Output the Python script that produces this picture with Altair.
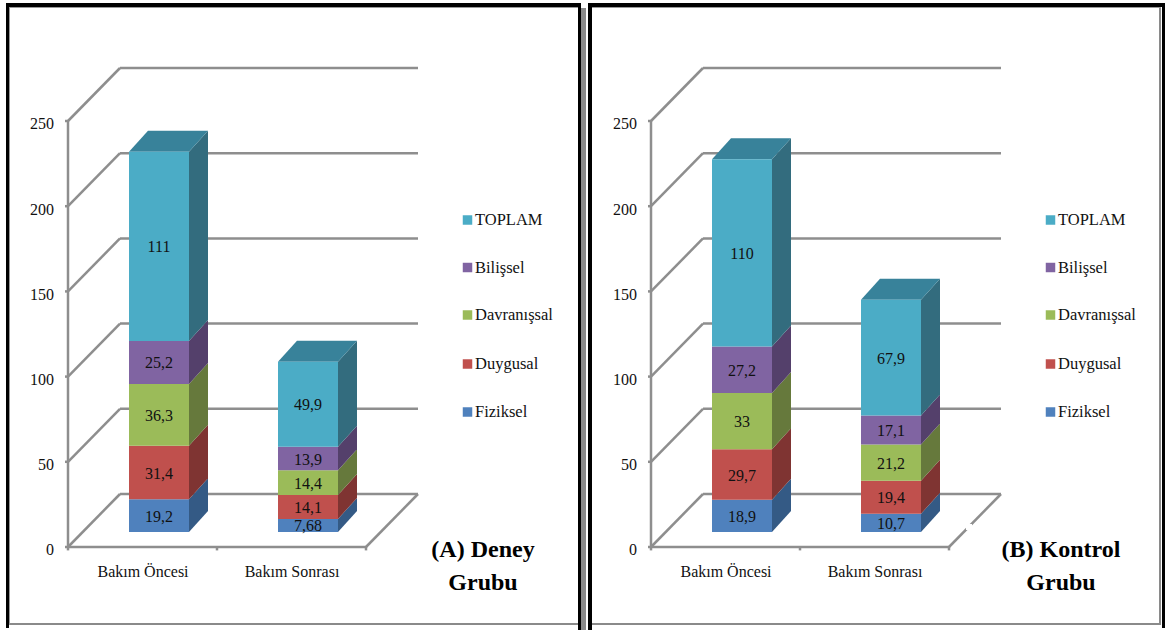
import altair as alt
import pandas as pd

# Scores per care stage, bottom to top of each stack
SERIES = ["Fiziksel", "Duygusal", "Davranışsal", "Bilişsel", "TOPLAM"]
STAGES = ["Bakım Öncesi", "Bakım Sonrası"]
DENEY_ONCESI = [19.2, 31.4, 36.3, 25.2, 111]
DENEY_SONRASI = [7.68, 14.1, 14.4, 13.9, 49.9]
KONTROL_ONCESI = [18.9, 29.7, 33, 27.2, 110]
KONTROL_SONRASI = [10.7, 19.4, 21.2, 17.1, 67.9]
LABELS_DENEY = [["19,2", "31,4", "36,3", "25,2", "111"], ["7,68", "14,1", "14,4", "13,9", "49,9"]]
LABELS_KONTROL = [["18,9", "29,7", "33", "27,2", "110"], ["10,7", "19,4", "21,2", "17,1", "67,9"]]
TICKS = [0, 50, 100, 150, 200, 250]

FRONT = ["#4F81BD", "#C0504D", "#9BBB59", "#8064A2", "#4BACC6"]
SIDE = ["#345A85", "#7F3432", "#66793C", "#54406B", "#336C7E"]
TOP = "#38829A"
GRID = "#8E8E8E"
SERIF = "Liberation Serif"

# Pixel density of the value axis and the fake-perspective depths, in value units
PX = 1.704
WALL = 53 / PX
BAR_LIFT = 15 / PX
BAR_DEPTH = 21 / PX
WALL_DX, BAR_DX = 52, 19
AXIS_X, SLOT, BAR_W, BAR_INSET = 68, 149, 60, 61
Y0 = 547


def panel(off, stacks, labels):
    lines, fronts, faces, texts = [], [], [], []

    def seg(x, y, x2, y2):
        lines.append(dict(x=off + x, y=y, x2=off + x2, y2=y2))

    right = AXIS_X + 2 * SLOT
    seg(AXIS_X, 0, AXIS_X, TICKS[-1])
    seg(AXIS_X, 0, right, 0)
    seg(right, 0, right + WALL_DX, WALL)
    for t in TICKS:
        seg(AXIS_X, t, AXIS_X + WALL_DX, t + WALL)
        seg(AXIS_X + WALL_DX, t + WALL, right + WALL_DX, t + WALL)
        seg(AXIS_X - 3, t, AXIS_X, t)
        texts.append(dict(x=off + 54, y=t - 2, t=str(t), a="right"))
    for i in range(3):
        seg(AXIS_X + i * SLOT, 0, AXIS_X + i * SLOT, -2)

    for s, (vals, stage) in enumerate(zip(stacks, STAGES)):
        x0 = off + AXIS_X + BAR_INSET + s * SLOT
        x1 = x0 + BAR_W
        base = BAR_LIFT
        texts.append(dict(x=off + AXIS_X + 75 + s * SLOT, y=-14.5, t=stage, a="center"))
        for k, v in enumerate(vals):
            top = base + v
            fronts.append(dict(x=x0, x2=x1, y=base, y2=top, c=FRONT[k]))
            texts.append(dict(x=(x0 + x1) / 2, y=(base + top) / 2 - 0.6, t=labels[s][k], a="center"))
            fid = f"{off}-{s}-{k}"
            faces += [
                dict(f=fid, x=x1, lo=base, hi=top, c=SIDE[k]),
                dict(f=fid, x=x1 + BAR_DX, lo=base + BAR_DEPTH, hi=top + BAR_DEPTH, c=SIDE[k]),
            ]
            base = top
        fid = f"{off}-{s}-top"
        faces += [
            dict(f=fid, x=x0, lo=base, hi=base, c=TOP),
            dict(f=fid, x=x0 + BAR_DX, lo=base, hi=base + BAR_DEPTH, c=TOP),
            dict(f=fid, x=x1, lo=base, hi=base + BAR_DEPTH, c=TOP),
            dict(f=fid, x=x1 + BAR_DX, lo=base + BAR_DEPTH, hi=base + BAR_DEPTH, c=TOP),
        ]
    return lines, fronts, faces, texts


def to_val(p):
    return (Y0 - p) / PX


def legend(off):
    rows = zip(SERIES, FRONT, [412, 364, 315, 267.5, 220])
    return [dict(x=off + 467.5, tx=off + 475, y=to_val(p), t=n, c=c) for n, c, p in rows]


a = panel(0, [DENEY_ONCESI, DENEY_SONRASI], LABELS_DENEY)
b = panel(583, [KONTROL_ONCESI, KONTROL_SONRASI], LABELS_KONTROL)
lines = pd.DataFrame(a[0] + b[0])
fronts = pd.DataFrame(a[1] + b[1])
faces = pd.DataFrame(a[2] + b[2])
texts = pd.DataFrame(a[3] + b[3])
leg = pd.DataFrame(legend(0) + legend(583))

xs = alt.Scale(domain=[0, 1165], range=[0, 1165], nice=False, zero=False)
ys = alt.Scale(domain=[to_val(630), to_val(0)], range=[630, 0], nice=False, zero=False)


def X(f):
    return alt.X(f, type="quantitative", scale=xs, axis=None)


def Y(f):
    return alt.Y(f, type="quantitative", scale=ys, axis=None, stack=None)


def text_aligned(align):
    return alt.Chart(texts[texts.a == align]).mark_text(
        font=SERIF, fontSize=16, color="#111111", baseline="middle", align=align
    ).encode(x=X("x"), y=Y("y"), text="t:N")


grid = alt.Chart(lines).mark_rule(color=GRID, strokeWidth=2.5).encode(x=X("x"), x2="x2", y=Y("y"), y2="y2")
side = alt.Chart(faces).mark_area().encode(
    x=X("x"), y=Y("lo"), y2="hi", detail="f:N", color=alt.Color("c:N", scale=None)
)
front = alt.Chart(fronts).mark_rect().encode(
    x=X("x"), x2="x2", y=Y("y"), y2="y2", color=alt.Color("c:N", scale=None)
)
swatches = alt.Chart(leg).mark_square(size=90, opacity=1).encode(
    x=X("x"), y=Y("y"), color=alt.Color("c:N", scale=None)
)
leg_text = alt.Chart(leg).mark_text(
    font=SERIF, fontSize=16.5, color="#111111", baseline="middle", align="left"
).encode(x=X("tx"), y=Y("y"), text="t:N")

captions = pd.DataFrame(
    [
        dict(x=483, y=to_val(550), t="(A) Deney"),
        dict(x=483, y=to_val(583), t="Grubu"),
        dict(x=1061, y=to_val(550), t="(B) Kontrol"),
        dict(x=1061, y=to_val(583), t="Grubu"),
    ]
)
caption = alt.Chart(captions).mark_text(
    font=SERIF, fontSize=24, fontWeight="bold", color="black", baseline="middle", align="center"
).encode(x=X("x"), y=Y("y"), text="t:N")

# Panel frames: heavy black outlines with thin grey inner edges, in page pixels
frame_rects = [
    (6, 9, 3, 628, "black"), (9, 10, 7, 625, "#999999"),
    (6, 581, 3, 7, "black"), (9, 578, 7, 8, "#999999"),
    (578, 581, 3, 630, "black"), (581, 586, 8, 630, "#8A8A8A"),
    (588, 592, 3, 630, "black"), (592, 1165, 3, 7, "black"),
    (592, 1161, 7, 8, "#999999"), (1162, 1165, 3, 628, "black"),
    (1159, 1161, 8, 625, "#8A8A8A"), (10, 578, 623, 625, "#8A8A8A"),
    (592, 1161, 623, 625, "#8A8A8A"),
    (966, 972, 524, 530, "white"),
]
frames = [
    alt.Chart(pd.DataFrame({"k": [0]})).mark_rect(color=c).encode(
        x=alt.value(x1), x2=alt.value(x2), y=alt.value(y1), y2=alt.value(y2)
    )
    for x1, x2, y1, y2, c in frame_rects
]

chart = (
    alt.layer(
        grid, side, front, text_aligned("center"), text_aligned("right"),
        swatches, leg_text, caption, *frames
    )
    .properties(width=1165, height=630, padding=0, background="white",
                autosize=alt.AutoSizeParams(type="none"))
    .configure_view(stroke=None)
)
chart.save("out.html", embed_options={"renderer": "svg", "actions": False})
